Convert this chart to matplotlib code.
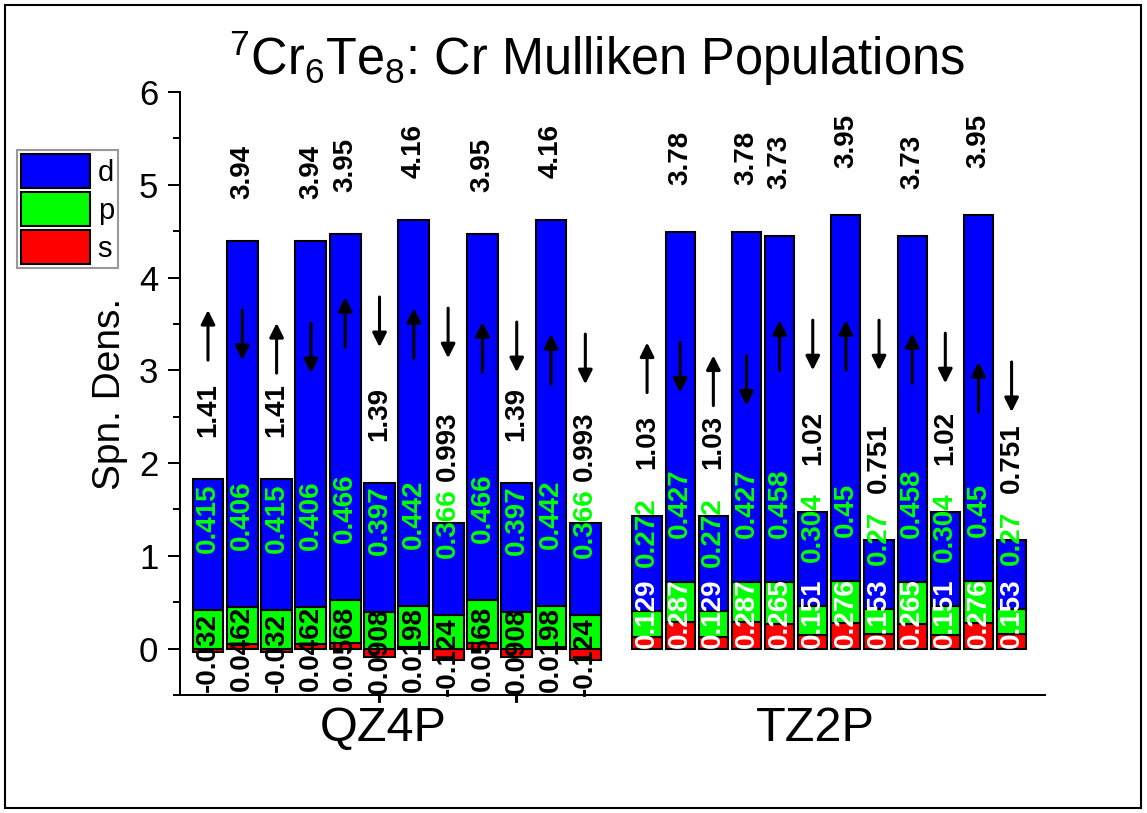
import matplotlib
matplotlib.use("Agg")
import matplotlib.pyplot as plt
from matplotlib.patches import Patch, Rectangle

plt.rcParams['font.family'] = ['Liberation Sans', 'DejaVu Sans']
plt.rcParams['mathtext.fontset'] = 'custom'
plt.rcParams['mathtext.rm'] = 'Liberation Sans'
plt.rcParams['mathtext.it'] = 'Liberation Sans:italic'
plt.rcParams['mathtext.bf'] = 'Liberation Sans:bold'

# Mulliken spin populations per Cr site (s, p, d), two basis sets
basis_sets = ['QZ4P', 'TZ2P']
qz4p_s = [-0.032, 0.0462, -0.032, 0.0462, 0.0568, -0.0908, 0.0198, -0.124, 0.0568, -0.0908, 0.0198, -0.124]
qz4p_p = [0.415, 0.406, 0.415, 0.406, 0.466, 0.397, 0.442, 0.366, 0.466, 0.397, 0.442, 0.366]
qz4p_d = [1.41, 3.94, 1.41, 3.94, 3.95, 1.39, 4.16, 0.993, 3.95, 1.39, 4.16, 0.993]
tz2p_s = [0.129, 0.287, 0.129, 0.287, 0.265, 0.151, 0.276, 0.153, 0.265, 0.151, 0.276, 0.153]
tz2p_p = [0.272, 0.427, 0.272, 0.427, 0.458, 0.304, 0.45, 0.27, 0.458, 0.304, 0.45, 0.27]
tz2p_d = [1.03, 3.78, 1.03, 3.78, 3.73, 1.02, 3.95, 0.751, 3.73, 1.02, 3.95, 0.751]
spin = ['up', 'down'] * 6

# vertical centre of the spin arrow drawn for each pair of sites
qz4p_arrow_mid = [3.38, 3.24, 3.52, 3.40, 3.25, 3.12]
tz2p_arrow_mid = [3.03, 2.89, 3.27, 3.27, 3.13, 2.82]

C_D, C_P, C_S = '#0000FF', '#00FF00', '#FF0000'

W, H = 1147, 813
fig = plt.figure(figsize=(W / 100, H / 100), dpi=100)
ax = fig.add_axes([180 / W, 1 - 695 / H, (1045 - 180) / W, (695 - 92) / H])

PX = 0.72  # points per pixel at 100 dpi

groups = [
    dict(s=qz4p_s, p=qz4p_p, d=qz4p_d, start=0.0, pitch=1.0, width=0.90,
         d_off=42, p_off=57, s_white=False, arrows=qz4p_arrow_mid),
    dict(s=tz2p_s, p=tz2p_p, d=tz2p_d, start=12.80, pitch=0.966, width=0.85,
         d_off=47, p_off=44, s_white=True, arrows=tz2p_arrow_mid),
]

lab_fs = 20
group_centres = []
for g in groups:
    n = len(g['s'])
    xs = [g['start'] + i * g['pitch'] for i in range(n)]
    group_centres.append((xs[0] + xs[-1]) / 2 - 0.4)
    s, p, d = g['s'], g['p'], g['d']
    p_base = [max(v, 0) for v in s]
    d_base = [b + v for b, v in zip(p_base, p)]
    kw = dict(width=g['width'], edgecolor='black', linewidth=1.5, zorder=2)
    ax.bar(xs, s, color=C_S, **kw)
    ax.bar(xs, p, bottom=p_base, color=C_P, **kw)
    ax.bar(xs, d, bottom=d_base, color=C_D, **kw)
    for i, x in enumerate(xs):
        top = d_base[i] + d[i]
        ax.annotate(f"{d[i]:g}", (x, top), xytext=(0, g['d_off'] * PX),
                    textcoords='offset points', rotation=90, ha='center',
                    va='bottom', fontsize=lab_fs, fontweight='bold', color='black', zorder=4)
        ax.annotate(f"{p[i]:g}", (x, d_base[i]), xytext=(0, g['p_off'] * PX),
                    textcoords='offset points', rotation=90, ha='center',
                    va='bottom', fontsize=lab_fs, fontweight='bold', color=C_P, zorder=4)
        if g['s_white']:
            ax.annotate(f"{s[i]:g}", (x, 0), xytext=(0, 1 * PX),
                        textcoords='offset points', rotation=90, ha='center',
                        va='bottom', fontsize=lab_fs, fontweight='bold', color='white', zorder=4)
        else:
            ax.annotate(f"{s[i]:g}", (x, s[i] / 2), xytext=(0, -2 * PX),
                        textcoords='offset points', rotation=90, ha='center',
                        va='center', fontsize=lab_fs, fontweight='bold', color='black', zorder=4)
        mid = g['arrows'][i // 2]
        half = 0.27
        if spin[i] == 'up':
            tail, tip = mid - half, mid + half
        else:
            tail, tip = mid + half, mid - half
        ax.annotate('', xy=(x, tip), xytext=(x, tail),
                    arrowprops=dict(arrowstyle='-|>,head_length=0.6,head_width=0.3',
                                    color='black', lw=2.2, mutation_scale=14,
                                    shrinkA=0, shrinkB=0), zorder=5)

ax.set_xlim(-0.816, 24.4)
ax.set_ylim(-0.5, 6)
ax.set_yticks(range(0, 7))
ax.set_yticks([v / 2 for v in range(-1, 12, 2)], minor=True)
ax.set_xticks(group_centres)
ax.set_xticklabels(basis_sets)
ax.tick_params(axis='x', length=0, pad=8, labelsize=35)
ax.tick_params(axis='y', which='major', direction='out', length=8.6, width=1.44,
               pad=7, labelsize=25)
ax.tick_params(axis='y', which='minor', direction='out', length=5, width=1.44)
for side in ('top', 'right'):
    ax.spines[side].set_visible(False)
for side in ('left', 'bottom'):
    ax.spines[side].set_linewidth(1.44)
ax.set_ylabel('Spn. Dens.', fontsize=28)
ax.yaxis.set_label_coords(-0.060, 0.5)

handles = [Patch(facecolor=C_D, edgecolor='black', linewidth=1.5, label='d'),
           Patch(facecolor=C_P, edgecolor='black', linewidth=1.5, label='p'),
           Patch(facecolor=C_S, edgecolor='black', linewidth=1.5, label='s')]
leg = ax.legend(handles=handles, loc='upper left', bbox_to_anchor=(17 / W, 1 - 150 / H),
                bbox_transform=fig.transFigure, fontsize=21, handlelength=2.36,
                handleheight=1.415, labelspacing=0.137, handletextpad=0.27,
                borderpad=0.137, borderaxespad=0, frameon=True, fancybox=False)
leg.get_frame().set_edgecolor('#808080')
leg.get_frame().set_linewidth(1.5)

fig.text(597 / W, 1 - 58 / H, r'$^{7}$Cr$_{6}$Te$_{8}$: Cr Mulliken Populations',
         ha='center', va='center', fontsize=36.4)

fig.patches.append(Rectangle((5 / W, 5 / H), 1 - 11 / W, 1 - 10 / H, transform=fig.transFigure,
                             fill=False, edgecolor='black', linewidth=1.5))

fig.savefig('out.png', dpi=100)
